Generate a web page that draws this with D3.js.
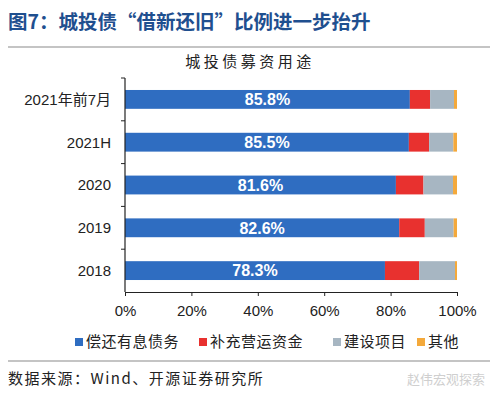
<!DOCTYPE html>
<html>
<head>
<meta charset="utf-8">
<script src="https://cdn.jsdelivr.net/npm/d3@7"></script>
<style>
  body { margin: 0; background: #fff; }
  svg text { font-family: "Liberation Sans", Arial, "Noto Sans CJK SC", sans-serif; }
  .cjk { font-family: "Noto Sans CJK SC", sans-serif; }
</style>
</head>
<body>
<div class="plot"></div>
<script>
// data
const categories = ["2021年前7月", "2021H", "2020", "2019", "2018"];
const seriesNames = ["偿还有息债务", "补充营运资金", "建设项目", "其他"];
const repayDebt = [85.8, 85.5, 81.6, 82.6, 78.3];
const workingCap = [6.1, 6.1, 8.3, 7.7, 10.3];
const construction = [7.2, 7.3, 8.9, 8.7, 10.8];
const others = [0.9, 1.1, 1.2, 1.0, 0.6];
const xTicks = [0, 20, 40, 60, 80, 100];
const colors = ["#2F6DC1", "#E8312F", "#A7B6C2", "#F4A93B"];

const W = 500, H = 395;
const margin = {top: 78, right: 43, bottom: 103, left: 125};
const w = W - margin.left - margin.right;
const h = H - margin.top - margin.bottom;

const svg = d3.select(".plot")
    .append("svg")
        .attr("width", W)
        .attr("height", H);

// header
svg.append("text")
    .attr("class", "cjk")
    .attr("x", 8)
    .attr("y", 29)
    .style("font-size", "19.5px")
    .style("font-weight", "bold")
    .attr("fill", "#1F4F8F")
    .text("图7：城投债“借新还旧”比例进一步抬升");
svg.append("line")
    .attr("x1", 8).attr("x2", 490)
    .attr("y1", 47).attr("y2", 47)
    .attr("stroke", "#8a8a8a")
    .attr("stroke-width", 1.2);
svg.append("text")
    .attr("class", "cjk")
    .attr("x", 250)
    .attr("y", 67)
    .attr("text-anchor", "middle")
    .style("font-size", "15px")
    .style("letter-spacing", "3.5px")
    .attr("fill", "#222")
    .text("城投债募资用途");

const g = svg.append("g")
    .attr("transform", "translate(" + margin.left + "," + margin.top + ")");

const rows = categories.map((c, i) => ({
    cat: c,
    [seriesNames[0]]: repayDebt[i],
    [seriesNames[1]]: workingCap[i],
    [seriesNames[2]]: construction[i],
    [seriesNames[3]]: others[i]
}));

const x = d3.scaleLinear().domain([0, 100]).range([0, w]);
const y = d3.scaleBand().domain(categories).range([0, h]).paddingInner(0.56).paddingOuter(0.28);

const stacked = d3.stack().keys(seriesNames)(rows);

g.selectAll("g.layer")
    .data(stacked)
    .enter()
    .append("g")
        .attr("class", "layer")
        .attr("fill", (d, i) => colors[i])
    .selectAll("rect")
    .data(d => d)
    .enter()
    .append("rect")
        .attr("x", d => x(d[0]))
        .attr("y", d => y(d.data.cat))
        .attr("width", d => x(d[1]) - x(d[0]))
        .attr("height", y.bandwidth());

// value labels on the blue segment
g.selectAll("text.val")
    .data(stacked[0])
    .enter()
    .append("text")
        .attr("class", "val")
        .attr("x", d => x((d[0] + d[1]) / 2))
        .attr("y", d => y(d.data.cat) + y.bandwidth() / 2)
        .attr("dy", "0.36em")
        .attr("text-anchor", "middle")
        .attr("fill", "#fff")
        .style("font-size", "16px")
        .style("font-weight", "bold")
        .text(d => d.data[seriesNames[0]].toFixed(1) + "%");

// x axis
const xAxis = g.append("g")
    .attr("transform", "translate(0," + h + ")")
    .call(d3.axisBottom(x).tickValues(xTicks).tickFormat(d => d + "%").tickSize(4).tickSizeOuter(0));
xAxis.select(".domain").attr("stroke", "#222").attr("stroke-width", 1.2);
xAxis.selectAll(".tick line").attr("stroke", "#222");
xAxis.selectAll("text")
    .attr("y", 19)
    .attr("dy", "0.36em")
    .style("font-family", "'Liberation Sans', Arial, sans-serif")
    .style("font-size", "15px")
    .attr("fill", "#222");

// y axis: ticks sit between the categories
g.append("line")
    .attr("x1", 0).attr("x2", 0)
    .attr("y1", 0).attr("y2", h)
    .attr("stroke", "#222")
    .attr("stroke-width", 1.2);
const step = y.step();
g.selectAll("line.ytick")
    .data(d3.range(categories.length))
    .enter()
    .append("line")
        .attr("class", "ytick")
        .attr("x1", -4).attr("x2", 0)
        .attr("y1", i => y(categories[i]) - (step - y.bandwidth()) / 2)
        .attr("y2", i => y(categories[i]) - (step - y.bandwidth()) / 2)
        .attr("stroke", "#222");
g.selectAll("text.ylab")
    .data(categories)
    .enter()
    .append("text")
        .attr("class", "ylab")
        .attr("x", -14)
        .attr("y", d => y(d) + y.bandwidth() / 2)
        .attr("dy", "0.36em")
        .attr("text-anchor", "end")
        .style("font-size", "15px")
        .attr("fill", "#222")
        .text(d => d);

// legend
const legendX = [75, 199, 333, 417];
const legend = svg.append("g");
seriesNames.forEach((s, i) => {
    legend.append("rect")
        .attr("x", legendX[i])
        .attr("y", 338)
        .attr("width", 8)
        .attr("height", 8)
        .attr("fill", colors[i]);
    legend.append("text")
        .attr("class", "cjk")
        .attr("x", legendX[i] + 11)
        .attr("y", 342)
        .attr("dy", "0.36em")
        .style("font-size", "15px")
        .style("letter-spacing", "0.5px")
        .attr("fill", "#222")
        .text(s);
});

// footer
svg.append("line")
    .attr("x1", 8).attr("x2", 490)
    .attr("y1", 361).attr("y2", 361)
    .attr("stroke", "#8a8a8a")
    .attr("stroke-width", 1.2);
svg.append("text")
    .attr("class", "cjk")
    .attr("x", 8)
    .attr("y", 384)
    .style("font-size", "15px")
    .style("letter-spacing", "1.5px")
    .attr("fill", "#222")
    .text("数据来源：Wind、开源证券研究所");
svg.append("text")
    .attr("class", "cjk")
    .attr("x", 485)
    .attr("y", 384)
    .attr("text-anchor", "end")
    .style("font-size", "13px")
    .attr("fill", "#cfcfcf")
    .text("赵伟宏观探索");
</script>
</body>
</html>
